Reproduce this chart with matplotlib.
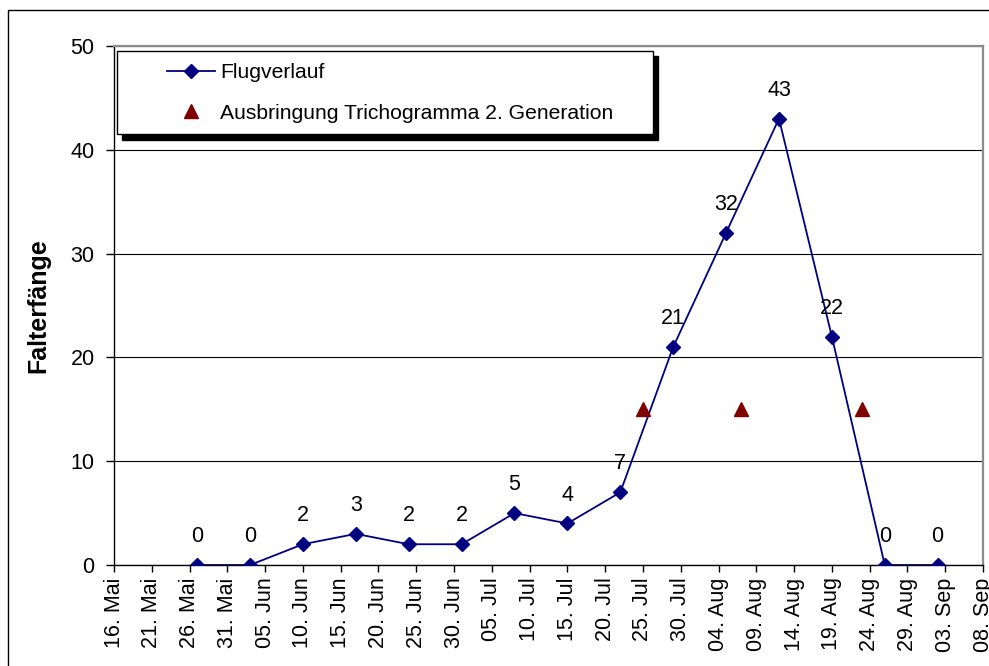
import datetime as dt

import matplotlib
matplotlib.use("Agg")
import matplotlib.pyplot as plt
import matplotlib.dates as mdates
from matplotlib.patches import Rectangle
from matplotlib.ticker import FuncFormatter, MultipleLocator
from matplotlib.transforms import offset_copy

plt.rcParams["font.family"] = ["Liberation Sans", "DejaVu Sans"]

# ---- data -------------------------------------------------------------
YEAR = 2004
catch_dates = ["05-27", "06-03", "06-10", "06-17", "06-24", "07-01", "07-08",
               "07-15", "07-22", "07-29", "08-05", "08-12", "08-19", "08-26",
               "09-02"]
catch_counts = [0, 0, 2, 3, 2, 2, 5, 4, 7, 21, 32, 43, 22, 0, 0]

release_dates = ["07-25", "08-07", "08-23"]
release_level = [15, 15, 15]

axis_start = "05-16"
axis_end = "09-08"
tick_step_days = 5

month_names = {5: "Mai", 6: "Jun", 7: "Jul", 8: "Aug", 9: "Sep"}
series_labels = ["Flugverlauf", "Ausbringung Trichogramma 2. Generation"]
y_label = "Falterfänge"
y_max = 50
y_step = 10


def to_date(md):
    m, d = md.split("-")
    return dt.date(YEAR, int(m), int(d))


x_catch = [to_date(s) for s in catch_dates]
x_release = [to_date(s) for s in release_dates]
x0, x1 = to_date(axis_start), to_date(axis_end)
tick_dates = []
t = x0
while t <= x1:
    tick_dates.append(t)
    t += dt.timedelta(days=tick_step_days)

# ---- figure -----------------------------------------------------------
W, H = 989, 666
FS = 15.5
NAVY = "#000080"
MAROON = "#800000"

fig = plt.figure(figsize=(W / 100, H / 100), dpi=100)
fig.patch.set_facecolor("white")

# outer chart frame
fig.patches.append(Rectangle((8 / W, -0.5), 2.0, 1.5 - 10 / H,
                             transform=fig.transFigure, fill=False,
                             edgecolor="black", linewidth=1.0))

ax = fig.add_axes([114 / W, 1 - 565 / H, (983 - 114) / W, (565 - 46) / H])

ax.plot(x_catch, catch_counts, color=NAVY, linewidth=1.3, marker="D",
        markersize=7.2, markerfacecolor=NAVY, markeredgecolor=NAVY,
        zorder=3, label=series_labels[0])
ax.plot(x_release, release_level, linestyle="none", marker="^",
        markersize=10.5, color=MAROON, zorder=3, label=series_labels[1])

for d, v in zip(x_catch, catch_counts):
    ax.annotate(str(v), (d, v), xytext=(0, 16.5), textcoords="offset points",
                ha="center", va="baseline", fontsize=FS, color="black",
                zorder=4)

ax.set_xlim(mdates.date2num(x0), mdates.date2num(x1))
ax.set_ylim(0, y_max)
ax.yaxis.set_major_locator(MultipleLocator(y_step))
ax.set_xticks(mdates.date2num(tick_dates))
ax.xaxis.set_major_formatter(FuncFormatter(
    lambda v, p: "{:02d}. {}".format(mdates.num2date(v).day,
                                     month_names[mdates.num2date(v).month])))

ax.tick_params(axis="x", direction="out", length=5, width=1, pad=4,
               labelsize=FS, labelrotation=90)
ax.tick_params(axis="y", direction="out", length=6, width=1, pad=8,
               labelsize=FS)

ax.yaxis.grid(True, color="black", linewidth=0.8)
ax.set_axisbelow(True)

for side in ("left", "bottom"):
    ax.spines[side].set_color("black")
    ax.spines[side].set_linewidth(1.0)
for side in ("top", "right"):
    ax.spines[side].set_color("#8c8c8c")
    ax.spines[side].set_linewidth(1.6)

ax.set_ylabel(y_label, fontsize=18, fontweight="bold")
ax.yaxis.set_label_coords(-0.0736, 0.5)

# legend box with drop shadow
lx0, lx1 = (117.3 - 114) / 869, (653.3 - 114) / 869
ly0, ly1 = (565 - 134.3) / 519, (565 - 50.7) / 519
shadow_tf = offset_copy(ax.transAxes, fig=fig, x=3.4, y=-4.0, units="points")
ax.add_patch(Rectangle((lx0, ly0), lx1 - lx0, ly1 - ly0, transform=shadow_tf,
                       facecolor="black", edgecolor="black", linewidth=1.0,
                       zorder=5, clip_on=False))
ax.add_patch(Rectangle((lx0, ly0), lx1 - lx0, ly1 - ly0,
                       transform=ax.transAxes, facecolor="white",
                       edgecolor="black", linewidth=1.0, zorder=5.5,
                       clip_on=False))

handles, labels = ax.get_legend_handles_labels()
leg = ax.legend(handles, labels, loc="center left",
                bbox_to_anchor=((167 - 114) / 869, (565 - 93) / 519),
                frameon=False, fontsize=15.2, borderpad=0, borderaxespad=0,
                handlelength=2.25, handletextpad=0.25, labelspacing=1.0,
                numpoints=1)
leg.set_zorder(6)

fig.savefig("out.png", dpi=100, facecolor="white")
